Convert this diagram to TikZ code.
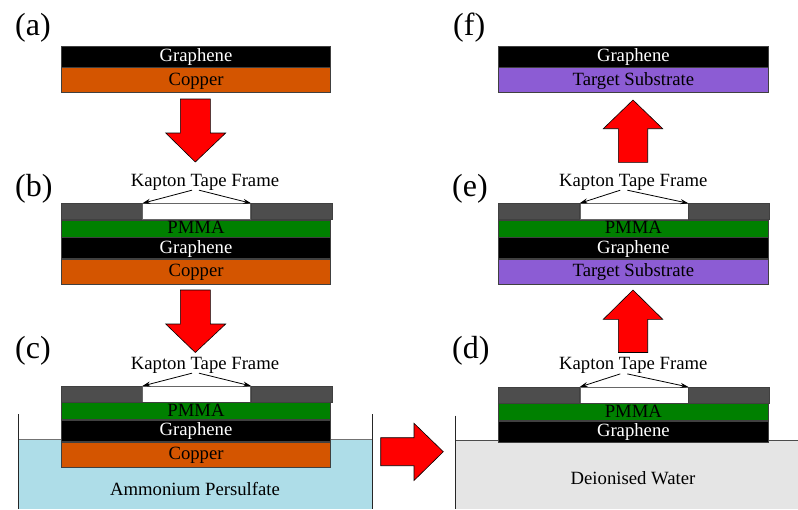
\documentclass[tikz,border=0pt]{standalone}
\usepackage{fontspec}
\setmainfont{Liberation Serif}
\usetikzlibrary{positioning,arrows.meta}

\definecolor{coppercol}{HTML}{D45500}
\definecolor{pmmacol}{HTML}{008000}
\definecolor{kaptoncol}{HTML}{4D4D4D}
\definecolor{targetcol}{HTML}{8C5CD4}
\definecolor{apscol}{HTML}{AEDDE8}
\definecolor{watercol}{HTML}{E5E5E5}

\begin{document}
\begin{tikzpicture}[x=1pt,y=-1pt,
  layer/.style={draw=black!75, line width=0.7pt, minimum width=269.4pt,
    inner sep=0pt, font=\fontsize{18.7}{22}\selectfont,
    text height=13pt, text depth=3pt},
  pmma/.style={layer, fill=pmmacol, text=black, minimum height=17pt},
  graph/.style={layer, fill=black, text=white, minimum height=21pt},
  copperlayer/.style={layer, fill=coppercol, text=black, minimum height=25pt},
  targetlayer/.style={layer, fill=targetcol, text=black, minimum height=25pt},
  tape/.style={draw=black!75, line width=0.7pt, fill=kaptoncol,
    minimum width=80.7pt, minimum height=15.5pt, inner sep=0pt},
  window/.style={draw=black!60, line width=0.7pt, fill=white,
    minimum width=108pt, minimum height=15.5pt, inner sep=0pt},
  caption/.style={inner sep=0pt, font=\fontsize{18.7}{22}\selectfont},
  panel/.style={inner sep=0pt, anchor=base west, font=\fontsize{32}{36}\selectfont},
  pointer/.style={line width=0.8pt, -{Stealth[length=8pt,width=5pt]}},
  blockarrow/.style={fill=red, draw=black, line width=0.6pt, line join=miter},
  wall/.style={line width=0.9pt, draw=black!85}
]
\useasboundingbox (0,0) rectangle (798,509);

% ---------- baths ----------
\fill[apscol] (18,439) rectangle (372,509);
\draw[black!55, line width=0.8pt] (18,439) -- (372,439);
\draw[wall] (18,414) -- (18,509);
\draw[wall] (372,414) -- (372,509);
\node[caption, anchor=base] (c-sol) at (195,495.7) {Ammonium Persulfate};

\fill[watercol] (455.5,440) rectangle (798,509);
\draw[black!70, line width=0.9pt] (455.5,440) -- (798,440);
\draw[wall] (455.5,415.7) -- (455.5,509);
\node[caption, anchor=base] (d-sol) at (633,484) {Deionised Water};

% ---------- panel labels ----------
\node[panel] (lab-a) at (15,35.5) {(a)};
\node[panel] (lab-b) at (15,196) {(b)};
\node[panel] (lab-c) at (15,358.5) {(c)};
\node[panel] (lab-d) at (452,358.5) {(d)};
\node[panel] (lab-e) at (452,196) {(e)};
\node[panel] (lab-f) at (453,35.5) {(f)};

% ---------- (a) graphene on copper ----------
\node[graph, anchor=north west] (a-gr) at (61,45.7) {Graphene};
\node[copperlayer, below=0pt of a-gr] (a-cu) {Copper};

% ---------- (b) framed stack on copper ----------
\node[tape, anchor=north west] (b-kl) at (61,203.3) {};
\node[window, right=0pt of b-kl] (b-kw) {};
\node[tape, right=0pt of b-kw] (b-kr) {};
\node[pmma, anchor=north west] (b-pm) at (b-kl.south west) {PMMA};
\node[graph, below=0pt of b-pm] (b-gr) {Graphene};
\node[copperlayer, below=0pt of b-gr] (b-cu) {Copper};
\node[caption, anchor=base] (b-kt) at (205,186) {Kapton Tape Frame};
\draw[pointer] ([xshift=-13pt]b-kt.south) -- (b-kw.north west);
\draw[pointer] ([xshift=-6pt]b-kt.south) -- (b-kw.north east);

% ---------- (c) stack floating on etchant ----------
\node[tape, anchor=north west] (c-kl) at (61,386) {};
\node[window, right=0pt of c-kl] (c-kw) {};
\node[tape, right=0pt of c-kw] (c-kr) {};
\node[pmma, anchor=north west] (c-pm) at (c-kl.south west) {PMMA};
\node[graph, below=0pt of c-pm] (c-gr) {Graphene};
\node[copperlayer, below=0pt of c-gr] (c-cu) {Copper};
\node[caption, anchor=base] (c-kt) at (205,369) {Kapton Tape Frame};
\draw[pointer] ([xshift=-13pt]c-kt.south) -- (c-kw.north west);
\draw[pointer] ([xshift=-6pt]c-kt.south) -- (c-kw.north east);

% ---------- (d) stack floating on water ----------
\node[tape, anchor=north west] (d-kl) at (498.3,387) {};
\node[window, right=0pt of d-kl] (d-kw) {};
\node[tape, right=0pt of d-kw] (d-kr) {};
\node[pmma, anchor=north west] (d-pm) at (d-kl.south west) {PMMA};
\node[graph, below=0pt of d-pm, minimum height=21pt] (d-gr) {Graphene};
\node[caption, anchor=base] (d-kt) at (633.3,369.7) {Kapton Tape Frame};
\draw[pointer] ([xshift=-13pt]d-kt.south) -- (d-kw.north west);
\draw[pointer] ([xshift=-6pt]d-kt.south) -- (d-kw.north east);

% ---------- (e) framed stack on target ----------
\node[tape, anchor=north west] (e-kl) at (498.3,203.3) {};
\node[window, right=0pt of e-kl] (e-kw) {};
\node[tape, right=0pt of e-kw] (e-kr) {};
\node[pmma, anchor=north west] (e-pm) at (e-kl.south west) {PMMA};
\node[graph, below=0pt of e-pm] (e-gr) {Graphene};
\node[targetlayer, below=0pt of e-gr] (e-ts) {Target Substrate};
\node[caption, anchor=base] (e-kt) at (633.3,186) {Kapton Tape Frame};
\draw[pointer] ([xshift=-13pt]e-kt.south) -- (e-kw.north west);
\draw[pointer] ([xshift=-6pt]e-kt.south) -- (e-kw.north east);

% ---------- (f) graphene on target ----------
\node[graph, anchor=north west] (f-gr) at (498.3,45.7) {Graphene};
\node[targetlayer, below=0pt of f-gr] (f-ts) {Target Substrate};

% ---------- process arrows ----------
\draw[blockarrow] (180.3,99) -- (210.3,99) -- (210.3,133) -- (225.7,133)
  -- (195.3,162) -- (165.7,133) -- (180.3,133) -- cycle;
\draw[blockarrow] (180.3,290) -- (210.3,290) -- (210.3,324) -- (225.7,324)
  -- (195.3,352.5) -- (165.7,324) -- (180.3,324) -- cycle;
\draw[blockarrow] (380.7,437.7) -- (414,437.7) -- (414,423.3) -- (443.3,451.7)
  -- (414,480.5) -- (414,465.7) -- (380.7,465.7) -- cycle;
\draw[blockarrow] (618.3,352.5) -- (647.7,352.5) -- (647.7,319.3) -- (662.7,319.3)
  -- (633,290) -- (603.3,319.3) -- (618.3,319.3) -- cycle;
\draw[blockarrow] (618.3,162.3) -- (647.7,162.3) -- (647.7,128.7) -- (662.7,128.7)
  -- (633,100) -- (603.3,128.7) -- (618.3,128.7) -- cycle;
\end{tikzpicture}
\end{document}
